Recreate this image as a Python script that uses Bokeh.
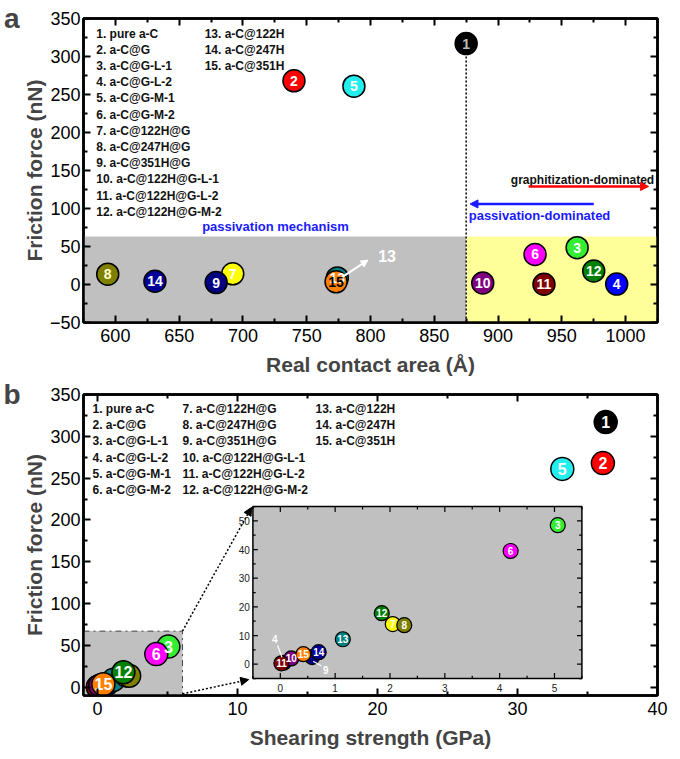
import numpy as np
from bokeh.plotting import figure
from bokeh.models import (Range1d, LinearAxis, Arrow, NormalHead, FixedTicker,
                          ColumnDataSource)
from bokeh.layouts import column
from bokeh.embed import file_html
from bokeh.resources import INLINE
from bokeh.core.properties import value

# ---------------- data ----------------
ids = [str(i) for i in range(1, 16)]
names = ["pure a-C", "a-C@G", "a-C@G-L-1", "a-C@G-L-2", "a-C@G-M-1", "a-C@G-M-2",
         "a-C@122H@G", "a-C@247H@G", "a-C@351H@G", "a-C@122H@G-L-1", "a-C@122H@G-L-2",
         "a-C@122H@G-M-2", "a-C@122H", "a-C@247H", "a-C@351H"]
contact_area = [875, 740, 962, 993, 787, 929, 692, 594, 679, 888, 936, 975, 774, 631, 773]
friction = [317, 268, 48.5, 0.5, 261, 39.5, 14.0, 13.6, 2.5, 2.0, 0.3, 17.8, 8.7, 4.2, 3.5]
shear = [36.3, 36.1, 5.06, 0.06, 33.2, 4.2, 2.05, 2.26, 0.58, 0.2, 0.02, 1.85, 1.14, 0.7, 0.42]
colors = ["#000000", "#ff0000", "#33ee33", "#0000ff", "#22eeee", "#ff00ff", "#ffff00",
          "#7f7f00", "#000080", "#800080", "#800000", "#008000", "#008080", "#000099", "#ff8000"]
label_colors_a = ["#bbbbbb", "white", "white", "white", "white", "white", "white",
                  "#ffffcc", "white", "white", "white", "white", "white", "white", "black"]

order_a = [13, 15, 8, 14, 7, 9, 2, 5, 1, 10, 6, 3, 12, 11, 4]
order_b = [4, 9, 11, 10, 14, 13, 7, 8, 12, 15, 3, 6, 5, 2, 1]
labels_b = [15, 12, 6, 3, 5, 2, 1]
order_inset = [4, 9, 10, 11, 15, 14, 13, 12, 7, 8, 6, 3]
labels_inset = [10, 11, 15, 14, 13, 12, 7, 8, 6, 3]

xa_major = [600, 650, 700, 750, 800, 850, 900, 950, 1000]
xa_minor = [575, 625, 675, 725, 775, 825, 875, 925, 975, 1025]
ya_major = [-50, 0, 50, 100, 150, 200, 250, 300, 350]
ya_minor = [-25, 25, 75, 125, 175, 225, 275, 325]
xb_major = [0, 10, 20, 30, 40]
xb_minor = [5, 15, 25, 35]
yb_major = [0, 50, 100, 150, 200, 250, 300, 350]
yb_minor = [25, 75, 125, 175, 225, 275, 325]
xi_major = [0, 1, 2, 3, 4, 5]
xi_minor = [-0.5, 0.5, 1.5, 2.5, 3.5, 4.5, 5.5]
yi_major = [0, 10, 20, 30, 40, 50]
yi_minor = [-5, 5, 15, 25, 35, 45, 55]

FONT = "Liberation Sans"


def src_for(order, xs, ys, lc=None):
    d = dict(x=[xs[k - 1] for k in order], y=[ys[k - 1] for k in order],
             c=[colors[k - 1] for k in order], t=[ids[k - 1] for k in order])
    d["lc"] = [(lc[k - 1] if lc else "white") for k in order]
    return ColumnDataSource(d)


def style(p, xmaj, xmin, ymaj, ymin, xlabel, ylabel, panel_letter, ytop):
    p.xgrid.visible = False
    p.ygrid.visible = False
    p.outline_line_color = "black"
    p.outline_line_width = 2.5
    p.xaxis.ticker = FixedTicker(ticks=xmaj, minor_ticks=xmin)
    p.yaxis.ticker = FixedTicker(ticks=ymaj, minor_ticks=ymin)
    for ax in [p.xaxis[0], p.yaxis[0]]:
        ax.major_tick_in = 7
        ax.major_tick_out = 0
        ax.minor_tick_in = 4
        ax.minor_tick_out = 0
        ax.major_tick_line_width = 2
        ax.minor_tick_line_width = 2
        ax.axis_line_width = 2.5
        ax.major_label_text_font = FONT
        ax.major_label_text_font_size = "18px"
        ax.major_label_text_color = "black"
        ax.axis_label_text_font = FONT
        ax.axis_label_text_font_size = "21px"
        ax.axis_label_text_font_style = "bold"
    p.xaxis.major_label_standoff = 6
    p.xaxis.axis_label_standoff = 8
    p.yaxis.major_label_standoff = 3
    p.yaxis.axis_label_standoff = 1
    p.xaxis.axis_label = xlabel
    p.yaxis.axis_label = ylabel
    for loc, tk in [("above", FixedTicker(ticks=xmaj, minor_ticks=xmin)),
                    ("right", FixedTicker(ticks=ymaj, minor_ticks=ymin))]:
        ax = LinearAxis(ticker=tk, major_label_text_font_size="0px", major_label_standoff=0,
                        major_tick_in=7, major_tick_out=0, minor_tick_in=4, minor_tick_out=0,
                        major_tick_line_width=2, minor_tick_line_width=2, axis_line_width=2.5)
        p.add_layout(ax, loc)
    # panel letter, carried by an outer left axis with a single tick at the frame top
    letter_axis = LinearAxis(ticker=FixedTicker(ticks=[ytop], minor_ticks=[]),
                             major_label_overrides={ytop: panel_letter},
                             major_label_text_font=FONT, major_label_text_font_style="bold",
                             major_label_text_font_size="28px", major_label_standoff=0,
                             major_tick_in=0, major_tick_out=0, axis_line_color=None,
                             major_tick_line_color=None, minor_tick_line_color=None)
    p.add_layout(letter_axis, "left")


# ---------------- panel a ----------------
pa = figure(frame_width=574, frame_height=304, x_range=Range1d(575, 1025),
            y_range=Range1d(-50, 350), output_backend="svg", toolbar_location=None,
            min_border_left=83, min_border_right=15, min_border_top=18, min_border_bottom=50)
style(pa, xa_major, xa_minor, ya_major, ya_minor, "Real contact area (Å)",
      "Friction force (nN)", "a", 350)

pa.quad(left=575, right=875, bottom=-50, top=63, fill_color="#c0c0c0", line_color=None)
pa.quad(left=875, right=1025, bottom=-50, top=63, fill_color="#ffff99", line_color=None)
pa.segment(x0=875, y0=-50, x1=875, y1=317, line_color="black", line_width=1.5, line_dash="2 2")

col1 = [f"{k}. {names[k - 1]}" for k in range(1, 13)]
col2 = [f"{k}. {names[k - 1]}" for k in range(13, 16)]
pa.text(x=[585] * len(col1), y=[330 - 21.3 * i for i in range(len(col1))], text=col1,
        text_font=value(FONT), text_font_style="bold", text_font_size="12px",
        text_baseline="middle", text_color="#111111")
pa.text(x=[670] * len(col2), y=[330 - 21.3 * i for i in range(len(col2))], text=col2,
        text_font=value(FONT), text_font_style="bold", text_font_size="12px",
        text_baseline="middle", text_color="#111111")

pa.text(x=[668], y=[76], text=["passivation mechanism"], text_font=value(FONT),
        text_font_style="bold", text_font_size="13px", text_baseline="middle",
        text_color="#1a1aff")
pa.text(x=[877], y=[91], text=["passivation-dominated"], text_font=value(FONT),
        text_font_style="bold", text_font_size="13px", text_baseline="middle",
        text_color="#1a1aff")
pa.text(x=[910], y=[138], text=["graphitization-dominated"], text_font=value(FONT),
        text_font_style="bold", text_font_size="12px", text_baseline="middle",
        text_color="#111111")
pa.add_layout(Arrow(x_start=924, y_start=129, x_end=1018, y_end=129, line_color="#ff0000",
                    line_width=2.5, end=NormalHead(size=8, fill_color="#ff0000",
                                                   line_color="#ff0000")))
pa.add_layout(Arrow(x_start=975, y_start=106, x_end=878, y_end=106, line_color="#1a1aff",
                    line_width=2.5, end=NormalHead(size=8, fill_color="#1a1aff",
                                                   line_color="#1a1aff")))

sa = src_for(order_a, contact_area, friction, label_colors_a)
pa.scatter("x", "y", source=sa, size=22, fill_color="c", line_color="black", line_width=1.5)
pa.text("x", "y", text="t", source=sa, text_color="lc", text_font=value(FONT),
        text_font_style="bold", text_font_size="14px", text_align="center",
        text_baseline="middle")

pa.add_layout(Arrow(x_start=778, y_start=10, x_end=798, y_end=32, line_color="white",
                    line_width=2, end=NormalHead(size=7, fill_color="white",
                                                 line_color="white")))
pa.text(x=[813], y=[37], text=["13"], text_color="white", text_font=value(FONT),
        text_font_style="bold", text_font_size="16px", text_align="center",
        text_baseline="middle")

# ---------------- panel b ----------------
pb = figure(frame_width=574, frame_height=301, x_range=Range1d(-1, 40),
            y_range=Range1d(-10, 350), output_backend="svg", toolbar_location=None,
            min_border_left=83, min_border_right=15, min_border_top=16, min_border_bottom=50)
style(pb, xb_major, xb_minor, yb_major, yb_minor, "Shearing strength (GPa)",
      "Friction force (nN)", "b", 350)

cols_b = [[f"{k}. {names[k - 1]}" for k in range(1, 7)],
          [f"{k}. {names[k - 1]}" for k in range(7, 13)],
          [f"{k}. {names[k - 1]}" for k in range(13, 16)]]
for cx, texts in zip([-0.36, 6.07, 15.57], cols_b):
    pb.text(x=[cx] * len(texts), y=[333 - 19.5 * i for i in range(len(texts))], text=texts,
            text_font=value(FONT), text_font_style="bold", text_font_size="12px",
            text_baseline="middle", text_color="#111111")

pb.quad(left=-1, right=6.07, bottom=-10, top=67, fill_color="#c0c0c0", line_color="#444444",
        line_dash="dashdot", line_width=1)

sb = src_for(order_b, shear, friction)
pb.scatter("x", "y", source=sb, size=23, fill_color="c", line_color="black", line_width=1.5)
sbl = src_for(labels_b, shear, friction)
pb.text("x", "y", text="t", source=sbl, text_color="white", text_font=value(FONT),
        text_font_style="bold", text_font_size="16px", text_align="center",
        text_baseline="middle")

pb.add_layout(Arrow(x_start=6.07, y_start=67, x_end=11.0, y_end=215, line_color="black",
                    line_width=1.5, line_dash="2 2",
                    end=NormalHead(size=8, fill_color="black", line_color="black")))
pb.add_layout(Arrow(x_start=6.07, y_start=-8, x_end=10.8, y_end=9, line_color="black",
                    line_width=1.5, line_dash="2 2",
                    end=NormalHead(size=8, fill_color="black", line_color="black")))

# inset
sub = pb.subplot(x_source=Range1d(-0.5, 5.5), y_source=Range1d(-5, 55),
                 x_target=Range1d(11.1, 34.6), y_target=Range1d(10.3, 216))
sub.quad(left=-0.5, right=5.5, bottom=-5, top=55, fill_color="#c0c0c0", line_color="black",
         line_width=1.5)
tl_y_maj, tl_y_min = 1.9, 1.0
tl_x_maj, tl_x_min = 0.09, 0.05
sub.segment(x0=xi_major, y0=[-5] * 6, x1=xi_major, y1=[-5 + tl_y_maj] * 6, line_color="black", line_width=1.2)
sub.segment(x0=xi_major, y0=[55] * 6, x1=xi_major, y1=[55 - tl_y_maj] * 6, line_color="black", line_width=1.2)
sub.segment(x0=xi_minor, y0=[-5] * 7, x1=xi_minor, y1=[-5 + tl_y_min] * 7, line_color="black", line_width=1.2)
sub.segment(x0=xi_minor, y0=[55] * 7, x1=xi_minor, y1=[55 - tl_y_min] * 7, line_color="black", line_width=1.2)
sub.segment(x0=[-0.5] * 6, y0=yi_major, x1=[-0.5 + tl_x_maj] * 6, y1=yi_major, line_color="black", line_width=1.2)
sub.segment(x0=[5.5] * 6, y0=yi_major, x1=[5.5 - tl_x_maj] * 6, y1=yi_major, line_color="black", line_width=1.2)
sub.segment(x0=[-0.5] * 7, y0=yi_minor, x1=[-0.5 + tl_x_min] * 7, y1=yi_minor, line_color="black", line_width=1.2)
sub.segment(x0=[5.5] * 7, y0=yi_minor, x1=[5.5 - tl_x_min] * 7, y1=yi_minor, line_color="black", line_width=1.2)
sub.text(x=xi_major, y=[-5] * 6, text=[str(v) for v in xi_major], y_offset=5,
         text_font=value(FONT), text_font_size="10px", text_align="center",
         text_baseline="top", text_color="#222222")
sub.text(x=[-0.5] * 6, y=yi_major, text=[str(v) for v in yi_major], x_offset=-3,
         text_font=value(FONT), text_font_size="10px", text_align="right",
         text_baseline="middle", text_color="#222222")

si = src_for(order_inset, shear, friction)
sub.scatter("x", "y", source=si, size=15, fill_color="c", line_color="black", line_width=1.2)
sil = src_for(labels_inset, shear, friction)
sub.text("x", "y", text="t", source=sil, text_color="white", text_font=value(FONT),
         text_font_style="bold", text_font_size="10px", text_align="center",
         text_baseline="middle")
# pointers to hidden points 4 and 9
sub.segment(x0=[-0.05, 0.75], y0=[6.5, -0.6], x1=[0.03, 0.6], y1=[2.4, 1.0],
            line_color="white", line_width=1.2)
sub.text(x=[-0.1, 0.83], y=[8.7, -2.0], text=["4", "9"], text_color="white",
         text_font=value(FONT), text_font_style="bold", text_font_size="10px",
         text_align="center", text_baseline="middle")

layout = column(pa, pb, spacing=0)
open("out.html", "w").write(file_html(layout, INLINE))
